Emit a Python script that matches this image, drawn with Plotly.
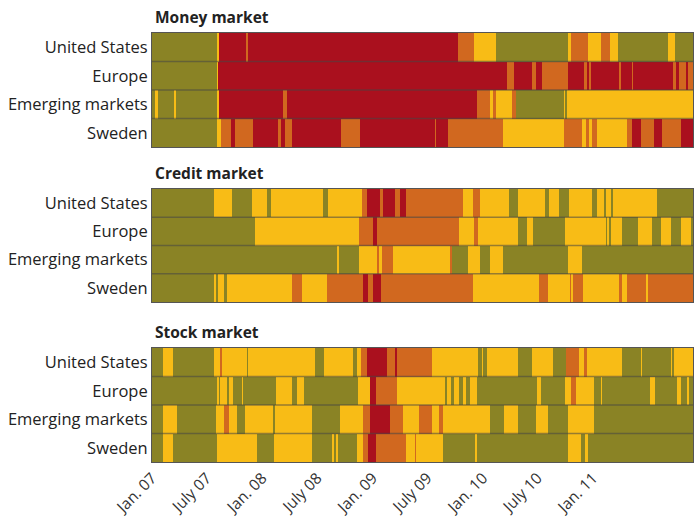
import numpy as np
import pandas as pd
import plotly.graph_objects as go

# ---------------- data ----------------
regions = ["United States", "Europe", "Emerging markets", "Sweden"]
panel_titles = ["Money market", "Credit market", "Stock market"]
tick_dates = ["2007-01-01", "2007-07-01", "2008-01-01", "2008-07-01", "2009-01-01",
              "2009-07-01", "2010-01-01", "2010-07-01", "2011-01-01"]
tick_labels = ["Jan. 07", "July 07", "Jan. 08", "July 08", "Jan. 09",
               "July 09", "Jan. 10", "July 10", "Jan. 11"]
start_year = 2007.0
end_year = 2011.905
# stress levels: 0 = low (olive), 1 = moderate (yellow), 2 = high (orange), 3 = very high (red)
# breaks = decimal years where the level changes; states = level before first break, then after each break

# Money market
us_money_breaks = [2007.588, 2007.606, 2007.851, 2007.869, 2009.769, 2009.923, 2010.113, 2010.774,
                   2010.801, 2010.955, 2011.072, 2011.154, 2011.226, 2011.679, 2011.742]
us_money_states = [0, 1, 3, 2, 3, 2, 1, 0, 1, 2, 1, 2, 1, 0, 1, 0]
eu_money_breaks = [2007.588, 2007.597, 2010.222, 2010.285, 2010.448, 2010.484, 2010.539, 2010.774,
                   2010.919, 2010.946, 2010.964, 2010.982, 2011.235, 2011.254, 2011.353, 2011.362,
                   2011.724, 2011.751, 2011.778, 2011.842, 2011.860]
eu_money_states = [0, 1, 3, 2, 3, 2, 3, 2, 3, 2, 3, 2, 3, 2, 3, 2, 3, 2, 3, 2, 3, 2]
em_money_breaks = [2007.027, 2007.054, 2007.199, 2007.217, 2007.588, 2007.606, 2008.186, 2008.222,
                   2009.941, 2010.068, 2010.086, 2010.122, 2010.267, 2010.303, 2010.738, 2010.747,
                   2010.765]
em_money_states = [0, 1, 0, 1, 0, 1, 3, 2, 3, 2, 1, 2, 1, 2, 0, 1, 0, 1]
se_money_breaks = [2007.588, 2007.624, 2007.715, 2007.751, 2007.914, 2008.140, 2008.167, 2008.204,
                   2008.267, 2008.710, 2008.882, 2009.561, 2009.579, 2009.679, 2010.177, 2010.738,
                   2010.901, 2010.937, 2010.964, 2010.991, 2011.036, 2011.308, 2011.353, 2011.435,
                   2011.552, 2011.625, 2011.797]
se_money_states = [0, 1, 2, 3, 2, 3, 2, 3, 2, 3, 2, 3, 2, 3, 2, 1, 2, 1, 2, 1, 2, 1, 2, 3, 2, 3, 2, 3]

# Credit market
us_credit_breaks = [2007.561, 2007.724, 2007.905, 2008.041, 2008.077, 2008.548, 2008.593, 2008.901,
                    2008.946, 2009.063, 2009.091, 2009.199, 2009.253, 2009.299, 2009.815, 2009.905,
                    2009.968, 2010.240, 2010.321, 2010.566, 2010.602, 2010.692, 2010.783, 2010.991,
                    2011.036, 2011.099, 2011.118, 2011.163, 2011.181, 2011.579]
us_credit_states = [0, 1, 0, 1, 0, 1, 0, 1, 2, 3, 2, 3, 2, 3, 2, 1, 2, 1, 0, 1, 0, 1, 0, 1, 0, 1,
                    0, 1, 0, 1, 0]
eu_credit_breaks = [2007.932, 2008.873, 2009.000, 2009.036, 2009.787, 2009.923, 2009.959, 2010.321,
                    2010.403, 2010.457, 2010.747, 2011.118, 2011.127, 2011.145, 2011.163, 2011.263,
                    2011.407, 2011.534, 2011.616, 2011.706, 2011.797, 2011.887]
eu_credit_states = [0, 1, 2, 3, 2, 1, 2, 1, 0, 1, 0, 1, 0, 1, 0, 1, 0, 1, 0, 1, 0, 1, 0]
em_credit_breaks = [2008.674, 2008.692, 2008.873, 2009.036, 2009.054, 2009.082, 2009.181, 2009.697,
                    2009.724, 2009.869, 2009.968, 2010.059, 2010.186, 2010.774, 2010.901]
em_credit_states = [0, 1, 0, 1, 2, 1, 2, 1, 2, 0, 1, 0, 1, 0, 1, 0]
se_credit_breaks = [2007.561, 2007.579, 2007.597, 2007.652, 2007.679, 2008.267, 2008.358, 2008.584,
                    2008.910, 2008.955, 2009.000, 2009.072, 2009.905, 2010.511, 2010.593, 2010.792,
                    2010.801, 2010.819, 2010.910, 2011.235, 2011.263, 2011.308, 2011.480, 2011.498]
se_credit_states = [0, 1, 0, 1, 0, 1, 2, 1, 2, 3, 2, 3, 2, 1, 2, 1, 2, 1, 2, 1, 2, 1, 2, 1, 2]

# Stock market
us_stock_breaks = [2007.100, 2007.190, 2007.561, 2007.615, 2007.634, 2007.860, 2007.869, 2008.475,
                   2008.557, 2008.819, 2008.855, 2008.891, 2008.946, 2009.127, 2009.199, 2009.217,
                   2009.543, 2009.959, 2009.987, 2010.005, 2010.032, 2010.321, 2010.448, 2010.638,
                   2010.756, 2010.873, 2010.919, 2010.946, 2011.263, 2011.435, 2011.444, 2011.706,
                   2011.715, 2011.733]
us_stock_states = [0, 1, 0, 1, 2, 1, 0, 1, 0, 1, 0, 1, 2, 3, 2, 3, 2, 1, 0, 1, 0, 1, 0, 1, 0, 2,
                   1, 2, 1, 0, 1, 0, 1, 0, 1]
eu_stock_breaks = [2007.588, 2007.606, 2007.615, 2007.679, 2007.697, 2007.733, 2007.815, 2007.824,
                   2008.122, 2008.267, 2008.312, 2008.376, 2008.864, 2008.973, 2009.027, 2009.217,
                   2009.652, 2009.670, 2009.715, 2009.733, 2009.787, 2009.815, 2009.842, 2009.878,
                   2009.941, 2010.493, 2010.530, 2010.747, 2010.801, 2010.846, 2011.009, 2011.072,
                   2011.082, 2011.516, 2011.561, 2011.760, 2011.797, 2011.851, 2011.869]
eu_stock_states = [0, 1, 0, 1, 0, 1, 0, 1, 0, 1, 0, 1, 0, 1, 3, 2, 1, 0, 1, 0, 1, 0, 1, 0, 1, 0,
                   1, 0, 1, 2, 1, 0, 1, 0, 1, 0, 1, 0, 1, 0]
em_stock_breaks = [2007.100, 2007.226, 2007.579, 2007.652, 2007.697, 2007.769, 2007.842, 2008.095,
                   2008.113, 2008.448, 2008.701, 2008.910, 2008.973, 2009.154, 2009.272, 2009.416,
                   2009.543, 2009.597, 2009.634, 2010.068, 2010.195, 2010.321, 2010.484, 2010.593,
                   2010.774, 2011.009]
em_stock_states = [0, 1, 0, 1, 2, 1, 0, 1, 0, 1, 0, 1, 2, 3, 2, 1, 2, 1, 2, 1, 0, 1, 0, 1, 0, 1, 0]
se_stock_breaks = [2007.100, 2007.190, 2007.588, 2007.950, 2008.104, 2008.448, 2008.629, 2008.647,
                   2008.665, 2008.683, 2008.855, 2008.910, 2008.955, 2009.027, 2009.299, 2009.380,
                   2009.398, 2009.634, 2009.932, 2009.950, 2009.996, 2010.005, 2010.774, 2010.891,
                   2010.928, 2010.955]
se_stock_states = [0, 1, 0, 1, 0, 1, 0, 1, 0, 1, 0, 1, 2, 3, 2, 1, 2, 1, 0, 1, 0, 1, 0, 1, 0, 1, 0]

panels = [
    [(us_money_breaks, us_money_states), (eu_money_breaks, eu_money_states),
     (em_money_breaks, em_money_states), (se_money_breaks, se_money_states)],
    [(us_credit_breaks, us_credit_states), (eu_credit_breaks, eu_credit_states),
     (em_credit_breaks, em_credit_states), (se_credit_breaks, se_credit_states)],
    [(us_stock_breaks, us_stock_states), (eu_stock_breaks, eu_stock_states),
     (em_stock_breaks, em_stock_states), (se_stock_breaks, se_stock_states)],
]

# ---------------- styling ----------------
OLIVE, YELLOW, ORANGE, RED = "#8A8325", "#F8BC16", "#D1681F", "#AA101E"
colorscale = [[0, OLIVE], [0.25, OLIVE], [0.25, YELLOW], [0.5, YELLOW],
              [0.5, ORANGE], [0.75, ORANGE], [0.75, RED], [1, RED]]
FONT = "Open Sans"

t0 = pd.Timestamp("2007-01-01")
def to_date(y):
    return t0 + pd.to_timedelta((y - start_year) * 365.25, unit="D")

end_date = to_date(end_year)
days = pd.date_range(t0, end_date, freq="D")
tgrid = start_year + (days - t0).days.values / 365.25

W, H = 694, 520
mt, mb, ml, mr = 33, 58, 152, 1
ph = H - mt - mb
panel_px = [(33, 147), (189, 302), (348, 462)]
domains = [[(H - mb - b) / ph, (H - mb - t) / ph] for t, b in panel_px]

fig = go.Figure()
layout = dict(
    width=W, height=H, autosize=False, margin=dict(l=ml, r=mr, t=mt, b=mb, pad=0),
    paper_bgcolor="white", plot_bgcolor="white",
    showlegend=False, font=dict(family=FONT, color="#222"),
)
annotations = []
shapes = []
xrange = [t0 - pd.Timedelta(hours=12), end_date + pd.Timedelta(hours=12)]
for p, rows in enumerate(panels):
    xa = "x" if p == 0 else f"x{p+1}"
    ya = "y" if p == 0 else f"y{p+1}"
    z = []
    for br, st in rows:
        idx = np.searchsorted(np.array(br), tgrid, side="right")
        z.append(np.array(st)[idx])
    fig.add_trace(go.Heatmap(
        x=days, y=list(range(len(regions))), z=z, xaxis=xa, yaxis=ya,
        colorscale=colorscale, zmin=0, zmax=3, showscale=False, hoverinfo="skip",
    ))
    bottom = p == len(panels) - 1
    layout["xaxis" if p == 0 else f"xaxis{p+1}"] = dict(
        type="date", range=xrange, domain=[0, 1], anchor=ya,
        tickvals=tick_dates, ticktext=tick_labels, showticklabels=bottom,
        tickangle=-45, tickfont=dict(size=15.5, color="#333"),
        showgrid=False, zeroline=False, ticks="",
        showline=True, mirror=True, linecolor="#555", linewidth=1, automargin=False,
    )
    layout["yaxis" if p == 0 else f"yaxis{p+1}"] = dict(
        domain=domains[p], range=[3.5, -0.5], anchor=xa,
        tickvals=list(range(len(regions))), ticktext=regions,
        tickfont=dict(size=16.5, color="#222"), ticks="", ticklen=0,
        showgrid=False, zeroline=False,
        showline=True, mirror=True, linecolor="#555", linewidth=1, automargin=False,
    )
    annotations.append(dict(
        text=f"<b>{panel_titles[p]}</b>", xref="paper", yref="paper", x=0, y=domains[p][1],
        xanchor="left", yanchor="bottom", yshift=3, xshift=1, showarrow=False,
        font=dict(size=15.5, color="#222", family=FONT),
    ))
    for yb in [0.5, 1.5, 2.5]:
        shapes.append(dict(type="line", xref=f"{xa} domain", yref=ya, x0=0, x1=1, y0=yb, y1=yb,
                           line=dict(color="rgba(70,70,70,0.55)", width=1.5), layer="above"))

layout["annotations"] = annotations
layout["shapes"] = shapes
fig.update_layout(**layout)

post = ("document.body.style.margin='0';document.body.style.padding='0';"
        "document.body.style.overflow='hidden';"
        "var gd=document.getElementById('{plot_id}');"
        "Plotly.relayout(gd,{width:694,height:520});")
fig.write_html("out.html", config={"responsive": False, "displayModeBar": False},
               post_script=post, default_width="694px", default_height="520px")
